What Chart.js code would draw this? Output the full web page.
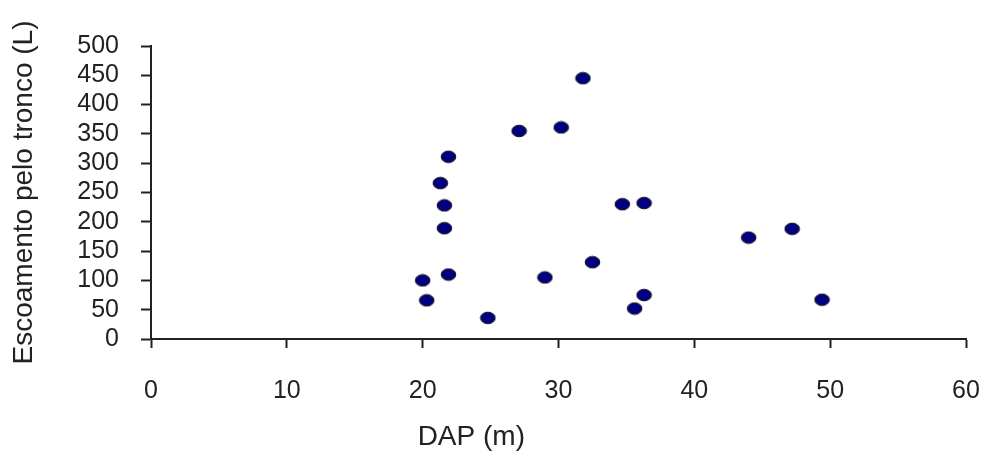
<!DOCTYPE html>
<html>
<head>
<meta charset="utf-8">
<script src="https://cdn.jsdelivr.net/npm/chart.js@4/dist/chart.umd.min.js"></script>
<style>
  html, body { margin: 0; padding: 0; background: #fff; }
  #wrap { width: 986px; height: 453px; }
</style>
</head>
<body>
<div id="wrap"><canvas id="myScatterChart"></canvas></div>
<script>
// values
const dap = [31.8, 27.1, 30.2, 21.9, 21.3, 21.6, 21.6, 21.9, 20.0, 20.3,
  24.8, 29.0, 32.5, 34.7, 36.3, 36.3, 35.6, 44.0, 47.2, 49.4];
const escoamento = [445, 355, 361, 311, 266, 228, 189, 110, 100, 66,
  36, 105, 131, 230, 232, 75, 52, 173, 188, 67];
const xTitle = "DAP (m)";
const yTitle = "Escoamento pelo tronco (L)";

const points = dap.map(function (x, i) {
  return { x: x, y: escoamento[i] };
});

// slightly flattened dot like the original marker
const dot = document.createElement("canvas");
dot.width = 17;
dot.height = 14;
const dctx = dot.getContext("2d");
dctx.beginPath();
dctx.ellipse(8.5, 7, 7.3, 5.8, 0, 0, Math.PI * 2);
dctx.fillStyle = "#000080";
dctx.fill();
dctx.lineWidth = 1;
dctx.strokeStyle = "#111";
dctx.stroke();

const font = "'Liberation Sans', Arial, sans-serif";

// x title sits left of centre in the original, so draw it by hand
const xTitlePlugin = {
  id: "xTitlePlugin",
  afterDraw: function (chart) {
    const c = chart.ctx;
    const area = chart.chartArea;
    c.save();
    c.font = "28px " + font;
    c.fillStyle = "#222";
    c.textAlign = "center";
    c.textBaseline = "middle";
    c.fillText(xTitle, area.left + (area.right - area.left) * 0.393, 437);
    c.restore();
  },
};

const ctx = document.getElementById("myScatterChart");

new Chart(ctx, {
  type: "scatter",
  data: {
    datasets: [
      {
        data: points,
        pointStyle: dot,
        pointRadius: 7,
        pointHoverRadius: 7,
      },
    ],
  },
  options: {
    responsive: true,
    maintainAspectRatio: false,
    animation: false,
    layout: { padding: { left: 1, right: 20, top: 46, bottom: 0 } },
    plugins: {
      legend: { display: false },
      tooltip: { enabled: false },
    },
    scales: {
      x: {
        type: "linear",
        min: 0,
        max: 60,
        ticks: {
          stepSize: 10,
          padding: 28,
          color: "#222",
          font: { family: font, size: 25 },
          maxRotation: 0,
          autoSkip: false,
        },
        grid: {
          drawOnChartArea: false,
          tickLength: 9,
          tickColor: "#222",
          tickWidth: 2,
        },
        border: { color: "#222", width: 2 },
        afterFit: function (scale) {
          scale.height = 114;
          scale.paddingLeft = 0;
          scale.paddingRight = 0;
        },
      },
      y: {
        min: 0,
        max: 500,
        ticks: {
          stepSize: 50,
          padding: 22,
          color: "#222",
          font: { family: font, size: 25 },
          autoSkip: false,
        },
        grid: {
          drawOnChartArea: false,
          tickLength: 10,
          tickColor: "#222",
          tickWidth: 2,
        },
        border: { color: "#222", width: 2 },
        title: {
          display: true,
          text: yTitle,
          color: "#222",
          font: { family: font, size: 28 },
          padding: { top: 6, bottom: 0 },
        },
        afterFit: function (scale) {
          scale.width = 150;
          scale.paddingTop = 0;
          scale.paddingBottom = 0;
        },
      },
    },
  },
  plugins: [xTitlePlugin],
});
</script>
</body>
</html>
